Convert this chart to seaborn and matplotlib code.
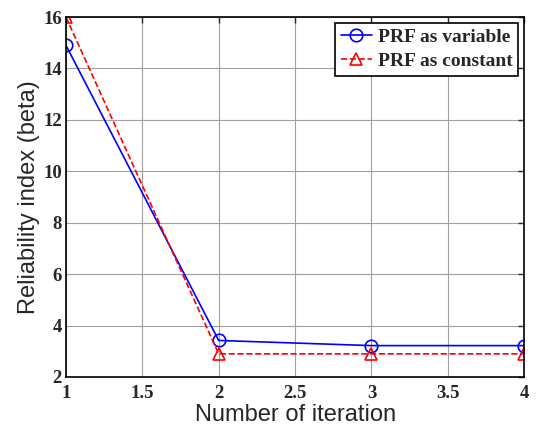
import pandas as pd
import matplotlib.pyplot as plt
import seaborn as sns

# values
iterations = [1, 2, 3, 4]
beta_variable = [14.9, 3.42, 3.22, 3.22]
beta_constant = [16.0, 2.9, 2.9, 2.9]
x_ticks = [1, 1.5, 2, 2.5, 3, 3.5, 4]
x_tick_labels = ["1", "1.5", "2", "2.5", "3", "3.5", "4"]
y_ticks = [2, 4, 6, 8, 10, 12, 14, 16]

sns.set_style("white")
plt.rcParams["font.family"] = ["Liberation Serif", "DejaVu Serif"]

df_var = pd.DataFrame({"iteration": iterations, "beta": beta_variable})
df_const = pd.DataFrame({"iteration": iterations, "beta": beta_constant})

fig = plt.figure(figsize=(5.36, 4.25), dpi=100)
ax = fig.add_axes([0.123, 0.113, 0.855, 0.847])

sns.lineplot(data=df_var, x="iteration", y="beta", ax=ax, color="blue",
             marker="o", markersize=9, markerfacecolor="none",
             markeredgecolor="blue", markeredgewidth=1.2, linewidth=1.2,
             label="PRF as variable")
sns.lineplot(data=df_const, x="iteration", y="beta", ax=ax, color="red",
             linestyle="--", marker="^", markersize=9, markerfacecolor="none",
             markeredgecolor="red", markeredgewidth=1.2, linewidth=1.2,
             label="PRF as constant")

ax.set_xlim(1, 4)
ax.set_ylim(2, 16)
ax.set_xticks(x_ticks)
ax.set_xticklabels(x_tick_labels)
ax.set_yticks(y_ticks)
ax.grid(True, color="#a0a0a0", linewidth=0.8)
ax.tick_params(direction="in", top=True, right=True, length=4, width=1,
               labelsize=13.5, pad=3)
ax.tick_params(axis="x", pad=6)
for lab in ax.get_xticklabels() + ax.get_yticklabels():
    lab.set_fontweight("bold")
for sp in ax.spines.values():
    sp.set_linewidth(1.2)
    sp.set_color("black")

ax.set_xlabel("Number of iteration", fontsize=17, family="Liberation Sans", labelpad=1)
ax.set_ylabel("Reliability index (beta)", fontsize=17, family="Liberation Sans", labelpad=2)

leg = ax.legend(loc="upper right", prop={"family": "Liberation Serif", "weight": "bold", "size": 14},
                frameon=True, fancybox=False, edgecolor="black", framealpha=1,
                handlelength=1.6, borderpad=0.3, labelspacing=0.3, handletextpad=0.3,
                borderaxespad=0.3)
leg.get_frame().set_linewidth(1.2)

fig.savefig("out.png", dpi=100)
